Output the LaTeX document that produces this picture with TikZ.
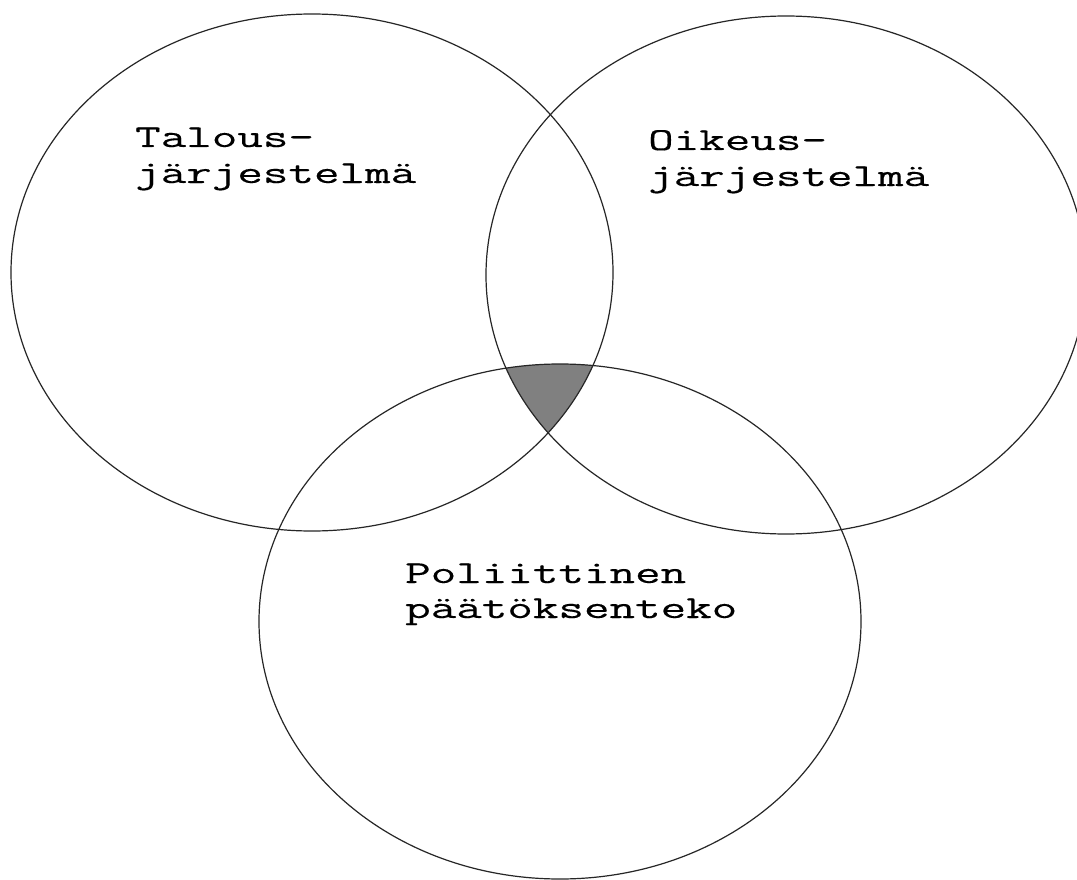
\documentclass[tikz,border=0pt]{standalone}
\usepackage{fontspec}
\newfontfamily\labelfont[FakeStretch=1.55,FakeBold=0.3]{Latin Modern Mono}
\begin{document}
\begin{tikzpicture}[x=1pt,y=-1pt,
  venn/.style={draw=black!85,line width=1.2pt},
  lbl/.style={anchor=base west,inner sep=0pt,font=\labelfont\fontsize{32}{36}\selectfont}]
\useasboundingbox (0,0) rectangle (1077,880);
\fill[white] (0,0) rectangle (1077,880);
\begin{scope}
  \clip (312,272.5) ellipse [x radius=301,y radius=258.5];
  \clip (786,275) ellipse [x radius=300,y radius=259];
  \fill[black!50] (560,621.5) ellipse [x radius=301,y radius=257.5];
\end{scope}
\draw[venn] (312,272.5) ellipse [x radius=301,y radius=258.5];
\draw[venn] (786,275) ellipse [x radius=300,y radius=259];
\draw[venn] (560,621.5) ellipse [x radius=301,y radius=257.5];
\node[lbl] (t1) at (135,147) {Talous-};
\node[lbl] (t2) at (135,183) {järjestelmä};
\node[lbl] (o1) at (648,150) {Oikeus-};
\node[lbl] (o2) at (648,186) {järjestelmä};
\node[lbl] (p1) at (405,583) {Poliittinen};
\node[lbl] (p2) at (405,618) {päätöksenteko};
\end{tikzpicture}
\end{document}
